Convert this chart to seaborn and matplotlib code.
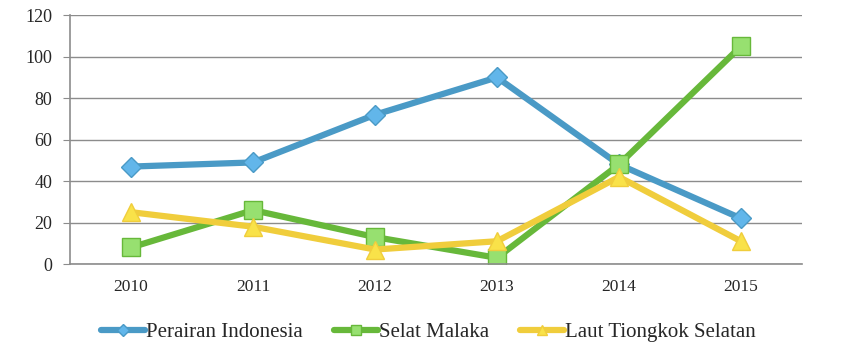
import pandas as pd
import matplotlib.pyplot as plt
import seaborn as sns

years = ["2010", "2011", "2012", "2013", "2014", "2015"]
perairan = [47, 49, 72, 90, 48, 22]
malaka = [8, 26, 13, 3, 48, 105]
tiongkok = [25, 18, 7, 11, 42, 11]
series_names = ["Perairan Indonesia", "Selat Malaka", "Laut Tiongkok Selatan"]

df = pd.DataFrame({"year": years * 3,
                   "value": perairan + malaka + tiongkok,
                   "series": [s for s in series_names for _ in years]})

line_colors = ["#4a9ac6", "#67b83a", "#f0cd3c"]
fill_colors = ["#62b6ea", "#97e070", "#f9e249"]
markers = ["D", "s", "^"]
msizes = [10, 13, 13]

sns.set_style("white")
plt.rcParams["font.family"] = ["Liberation Serif", "DejaVu Serif"]

fig = plt.figure(figsize=(8.45, 3.53), dpi=100)
ax = fig.add_axes([0.083, 0.252, 0.866, 0.705])

for i, name in enumerate(series_names):
    sub = df[df["series"] == name]
    sns.lineplot(data=sub, x="year", y="value", ax=ax, color=line_colors[i],
                 linewidth=4.5, marker=markers[i], markersize=msizes[i],
                 markerfacecolor=fill_colors[i], markeredgecolor=line_colors[i],
                 markeredgewidth=1, label=name, sort=False)

ax.set_xlim(-0.5, 5.5)
ax.set_ylim(0, 120)
ax.set_yticks(range(0, 121, 20))
ax.yaxis.grid(True, color="#8c8c8c", linewidth=1)
ax.set_axisbelow(True)
ax.set_xlabel("")
ax.set_ylabel("")

for s in ["top", "right"]:
    ax.spines[s].set_visible(False)
for s in ["left", "bottom"]:
    ax.spines[s].set_color("#8c8c8c")
    ax.spines[s].set_linewidth(1.2)

ax.set_xticks([x + 0.5 for x in range(-1, 6)], minor=True)
ax.tick_params(axis="x", which="major", length=0, labelsize=12.5, pad=11)
ax.tick_params(axis="x", which="minor", length=5, color="#8c8c8c", direction="out")
ax.tick_params(axis="y", length=5, color="#8c8c8c", labelsize=13, left=True, pad=8)

ax.legend(loc="upper center", bbox_to_anchor=(0.49, -0.16), ncol=3, frameon=False,
          fontsize=15, handlelength=2.1, columnspacing=1.5, handletextpad=0.05,
          markerscale=0.6)

fig.savefig("out.png", dpi=100)
